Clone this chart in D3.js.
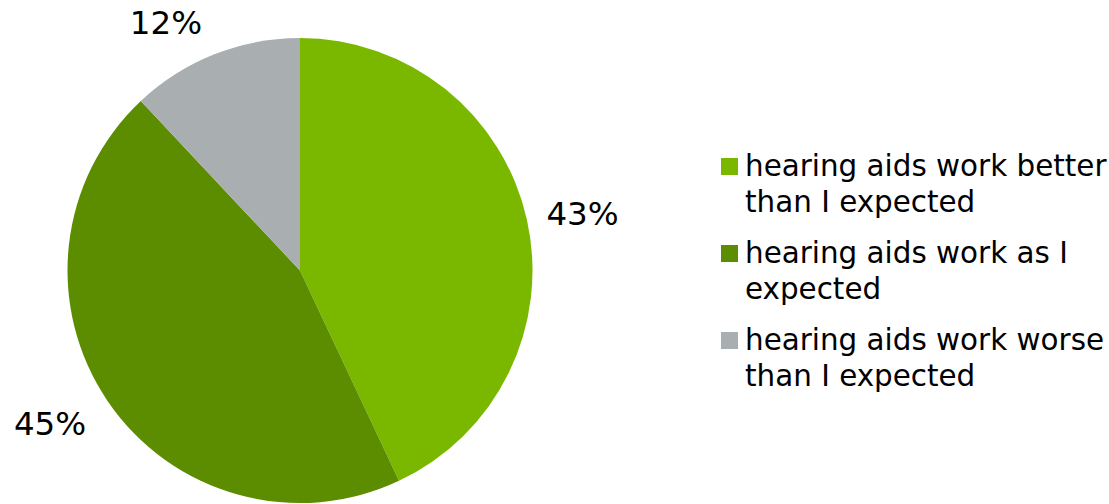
<!DOCTYPE html>
<html><head><meta charset="utf-8">
<script src="https://cdn.jsdelivr.net/npm/d3@7"></script>
<style>body{margin:0;background:#fff}svg{display:block}</style>
</head><body>
<script>
const categories = ["hearing aids work better than I expected","hearing aids work as I expected","hearing aids work worse than I expected"];
const legendLines = [["hearing aids work better","than I expected"],["hearing aids work as I","expected"],["hearing aids work worse","than I expected"]];
const values = [43,45,12];
const labels = ["43%","45%","12%"];
const colors = ["#7AB800","#5C8C00","#A9AEB1"];

const W=1109,H=504;
const svg=d3.select("body").append("svg").attr("width",W).attr("height",H);
const cx=300,cy=270.5,r=232.5;
const pie=d3.pie().sort(null).value(d=>d)(values);
const arc=d3.arc().innerRadius(0).outerRadius(r);
const g=svg.append("g").attr("transform",`translate(${cx},${cy})`);
g.selectAll("path").data(pie).join("path").attr("d",arc).attr("fill",(d,i)=>colors[i]);

const font="DejaVu Sans, Verdana, sans-serif";
const R=r+20, fs=32.5;
pie.forEach((d,i)=>{
  const a=(d.startAngle+d.endAngle)/2;
  const s=Math.sin(a), c=Math.cos(a);
  const px=s*R, py=-c*R;
  g.append("text").attr("x",px+(s>0?0:-5)).attr("y",py-c*fs*0.5+2)
   .attr("text-anchor",s>0?"start":"end").attr("dominant-baseline","central")
   .attr("font-family",font).attr("font-size",fs).attr("fill","#000").text(labels[i]);
});

const lg=svg.append("g").attr("transform","translate(721,0)");
const y0=176, gap=87, lh=35.5;
legendLines.forEach((lines,i)=>{
  const by=y0+i*gap;
  lg.append("rect").attr("x",0).attr("y",by-18).attr("width",17).attr("height",17).attr("fill",colors[i]);
  const t=lg.append("text").attr("font-family",font).attr("font-size",29.4).attr("fill","#000");
  lines.forEach((l,j)=>t.append("tspan").attr("x",24).attr("y",by+j*lh).text(l));
});
</script>
</body></html>
